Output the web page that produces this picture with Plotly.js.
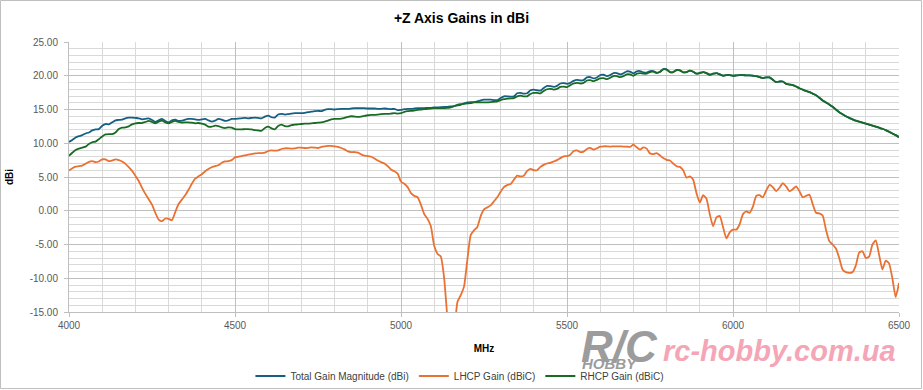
<!DOCTYPE html>
<html>
<head>
<meta charset="utf-8">
<script src="https://cdn.plot.ly/plotly-3.0.1.min.js"></script>
<style>
  html, body { margin: 0; padding: 0; background: #ffffff; }
  #chart { width: 923px; height: 390px; }
</style>
</head>
<body>
<div id="chart"></div>
<script>
// Frequency (MHz), 10 MHz steps
const freqMHz = [
  4000,4010,4020,4030,4040,4050,4060,4070,4080,4090,
  4100,4110,4120,4130,4140,4150,4160,4170,4180,4190,
  4200,4210,4220,4230,4240,4250,4260,4270,4280,4290,
  4300,4310,4320,4330,4340,4350,4360,4370,4380,4390,
  4400,4410,4420,4430,4440,4450,4460,4470,4480,4490,
  4500,4510,4520,4530,4540,4550,4560,4570,4580,4590,
  4600,4610,4620,4630,4640,4650,4660,4670,4680,4690,
  4700,4710,4720,4730,4740,4750,4760,4770,4780,4790,
  4800,4810,4820,4830,4840,4850,4860,4870,4880,4890,
  4900,4910,4920,4930,4940,4950,4960,4970,4980,4990,
  5000,5010,5020,5030,5040,5050,5060,5070,5080,5090,
  5100,5110,5120,5130,5140,5150,5160,5170,5180,5190,
  5200,5210,5220,5230,5240,5250,5260,5270,5280,5290,
  5300,5310,5320,5330,5340,5350,5360,5370,5380,5390,
  5400,5410,5420,5430,5440,5450,5460,5470,5480,5490,
  5500,5510,5520,5530,5540,5550,5560,5570,5580,5590,
  5600,5610,5620,5630,5640,5650,5660,5670,5680,5690,
  5700,5710,5720,5730,5740,5750,5760,5770,5780,5790,
  5800,5810,5820,5830,5840,5850,5860,5870,5880,5890,
  5900,5910,5920,5930,5940,5950,5960,5970,5980,5990,
  6000,6010,6020,6030,6040,6050,6060,6070,6080,6090,
  6100,6110,6120,6130,6140,6150,6160,6170,6180,6190,
  6200,6210,6220,6230,6240,6250,6260,6270,6280,6290,
  6300,6310,6320,6330,6340,6350,6360,6370,6380,6390,
  6400,6410,6420,6430,6440,6450,6460,6470,6480,6490,
  6500
];

// Total Gain Magnitude (dBi)
const totalGain = [
  10.2,10.5,10.85,11.05,11.2,11.45,11.6,11.9,12.05,12.1,
  12.6,12.85,12.8,13.1,13.4,13.45,13.5,13.7,13.8,13.8,
  13.75,13.7,13.55,13.6,13.7,13.45,13.15,13.4,13.6,13.3,
  13.1,13.4,13.5,13.3,13.35,13.5,13.6,13.6,13.55,13.45,
  13.55,13.6,13.4,13.2,13.35,13.6,13.5,13.3,13.4,13.6,
  13.6,13.65,13.7,13.75,13.7,13.75,13.8,13.75,13.7,13.95,
  14.1,13.85,13.8,14.25,14.35,14.25,14.3,14.4,14.45,14.45,
  14.45,14.5,14.6,14.7,14.75,14.8,14.75,14.95,15.05,15.05,
  15.0,15.05,15.1,15.1,15.1,15.15,15.2,15.2,15.2,15.2,
  15.15,15.15,15.15,15.1,15.1,15.15,15.1,15.05,15.1,14.9,
  14.95,15.05,15.1,15.1,15.15,15.2,15.2,15.2,15.25,15.25,
  15.3,15.3,15.35,15.4,15.4,15.45,15.5,15.6,15.7,15.9,
  16.05,16.1,16.1,16.2,16.35,16.45,16.45,16.45,16.4,16.4,
  16.7,16.95,16.95,16.9,16.95,17.4,17.45,17.35,17.4,17.85,
  17.95,17.85,17.8,18.2,18.5,18.45,18.35,18.5,18.85,18.9,
  18.8,18.95,19.25,19.4,19.3,19.35,19.75,19.8,19.6,19.75,
  20.1,20.15,19.95,20.1,20.4,20.4,20.2,20.35,20.65,20.6,
  20.35,20.65,20.7,20.5,20.45,20.7,20.7,20.45,20.6,21.0,
  20.95,20.55,20.55,20.85,20.8,20.5,20.55,20.75,20.6,20.3,
  20.4,20.55,20.4,20.15,20.3,20.4,20.2,20.0,20.1,20.1,
  20.0,20.05,20.1,20.1,20.05,20.05,20.0,19.95,19.8,19.65,
  19.75,19.75,19.4,19.05,19.15,19.15,18.8,18.7,18.6,18.4,
  18.15,17.95,17.75,17.6,17.35,17.1,16.75,16.35,16.05,15.75,
  15.4,15.0,14.6,14.3,14.0,13.75,13.55,13.35,13.2,13.05,
  12.9,12.75,12.6,12.45,12.3,12.15,11.95,11.7,11.45,11.2,
  10.9
];

// LHCP Gain (dBiC)
const lhcpGain = [
  5.95,6.3,6.55,6.6,6.7,6.95,7.25,7.35,7.2,7.3,
  7.6,7.6,7.35,7.45,7.6,7.5,7.3,6.95,6.45,5.9,
  5.2,4.4,3.4,2.5,1.7,0.9,-0.3,-1.3,-1.55,-1.15,
  -1.2,-1.4,-0.2,1.0,1.65,2.3,3.1,4.0,4.75,5.1,
  5.4,5.85,6.2,6.45,6.6,6.75,7.1,7.3,7.35,7.5,
  7.9,8.0,8.1,8.2,8.3,8.4,8.5,8.55,8.55,8.6,
  8.85,8.95,8.9,8.95,9.15,9.25,9.25,9.2,9.25,9.35,
  9.35,9.3,9.3,9.4,9.35,9.3,9.45,9.55,9.6,9.6,
  9.55,9.45,9.3,9.1,8.8,8.7,8.7,8.6,8.35,8.15,
  8.1,8.0,7.75,7.45,7.2,7.0,6.6,6.1,5.85,5.5,
  4.3,4.0,3.5,2.6,2.2,2.0,0.9,-0.5,-1.2,-2.3,
  -5.2,-6.4,-6.8,-10.0,-16.0,-20.0,-18.0,-13.5,-12.5,-11.2,
  -7.2,-3.6,-2.9,-2.4,-0.8,0.2,0.5,0.8,1.4,2.0,
  2.8,3.5,3.8,3.95,4.6,5.2,5.1,5.2,5.9,6.2,
  6.0,6.0,6.5,6.8,7.0,7.1,7.3,7.5,7.8,8.05,
  8.1,8.3,8.85,8.95,8.7,8.75,9.15,9.3,9.05,9.25,
  9.5,9.55,9.55,9.5,9.55,9.55,9.55,9.5,9.5,9.45,
  9.8,9.4,9.05,9.4,9.2,8.5,8.4,8.55,8.2,7.8,
  7.55,7.45,7.0,6.6,6.5,6.0,4.9,5.1,4.6,2.6,
  1.2,2.3,1.8,-0.5,-2.3,-1.0,-0.75,-2.4,-4.1,-3.2,
  -2.8,-2.8,-2.0,-0.5,-0.1,-0.3,0.6,2.2,2.3,2.0,
  3.0,3.85,3.5,2.9,3.4,4.1,3.6,2.9,3.2,3.6,
  2.9,2.0,2.2,2.4,1.0,-0.3,-0.4,-0.7,-2.8,-4.5,
  -5.0,-5.6,-7.0,-8.7,-9.1,-9.2,-9.1,-8.1,-6.2,-6.0,
  -7.0,-6.8,-5.0,-4.4,-6.5,-8.7,-7.4,-7.8,-10.0,-12.8,
  -10.7
];

// RHCP Gain (dBiC)
const rhcpGain = [
  8.15,8.6,9.0,9.2,9.35,9.5,9.9,10.15,10.25,10.6,
  11.0,11.3,11.35,11.35,11.6,12.1,12.3,12.35,12.5,12.8,
  12.95,13.0,13.0,13.15,13.3,13.15,12.95,13.2,13.35,13.1,
  12.95,13.15,13.3,13.15,13.05,13.1,13.1,13.05,12.95,13.0,
  12.9,12.75,12.45,12.45,12.6,12.55,12.35,12.25,12.35,12.3,
  12.1,12.05,12.05,12.1,12.1,12.05,11.95,11.9,11.85,12.25,
  12.45,12.2,12.05,12.55,12.75,12.55,12.5,12.7,12.75,12.8,
  12.85,12.9,12.9,12.95,13.0,13.05,13.1,13.2,13.35,13.55,
  13.6,13.6,13.65,13.75,13.9,14.0,13.95,13.9,13.95,14.05,
  14.15,14.2,14.2,14.25,14.3,14.35,14.35,14.4,14.45,14.4,
  14.45,14.65,14.75,14.8,14.85,14.95,15.0,15.05,15.1,15.15,
  15.2,15.2,15.2,15.2,15.25,15.3,15.5,15.7,15.8,15.85,
  15.9,15.95,16.05,16.05,16.05,16.05,16.05,16.1,16.15,16.2,
  16.4,16.55,16.6,16.65,16.7,16.95,17.05,16.95,16.95,17.3,
  17.45,17.45,17.4,17.75,18.0,18.05,17.95,18.05,18.35,18.4,
  18.3,18.6,18.85,18.95,18.85,18.95,19.3,19.35,19.2,19.4,
  19.6,19.65,19.5,19.7,19.95,19.95,19.8,19.95,20.2,20.2,
  20.0,20.3,20.4,20.3,20.3,20.55,20.6,20.4,20.55,20.95,
  20.9,20.55,20.55,20.85,20.8,20.5,20.55,20.75,20.6,20.3,
  20.4,20.55,20.4,20.15,20.3,20.4,20.2,20.0,20.1,20.1,
  20.0,20.05,20.1,20.1,20.05,20.05,20.0,19.95,19.8,19.65,
  19.75,19.75,19.4,19.05,19.15,19.15,18.8,18.7,18.6,18.4,
  18.15,17.95,17.75,17.6,17.35,17.1,16.75,16.35,16.05,15.75,
  15.4,15.0,14.6,14.3,14.0,13.75,13.55,13.35,13.2,13.05,
  12.9,12.75,12.6,12.45,12.3,12.15,11.95,11.7,11.45,11.2,
  10.9
];

const seriesNames = ["Total Gain Magnitude (dBi)", "LHCP Gain (dBiC)", "RHCP Gain (dBiC)"];
const xTickVals = [4000, 4500, 5000, 5500, 6000, 6500];
const xTickLabels = ["4000", "4500", "5000", "5500", "6000", "6500"];
const yTickVals = [-15, -10, -5, 0, 5, 10, 15, 20, 25];
const yTickLabels = ["-15.00", "-10.00", "-5.00", "0.00", "5.00", "10.00", "15.00", "20.00", "25.00"];

const FONT = "'Liberation Sans Narrow', 'Liberation Sans', Arial, sans-serif";
const WIDE = "'Liberation Sans', Arial, sans-serif";

const mk = (y, name, color) => ({
  x: freqMHz, y: y, name: name, type: 'scatter', mode: 'lines',
  line: { color: color, width: 1.8, shape: 'spline', smoothing: 0.5 },
  hoverinfo: 'skip'
});

const traces = [
  mk(totalGain, seriesNames[0], '#156082'),
  mk(lhcpGain, seriesNames[1], '#E97132'),
  mk(rhcpGain, seriesNames[2], '#196B24')
];

// paper coords helpers (plot area in pixels)
const PL = 69, PR = 899, PT = 42, PB = 312;
const px = v => (v - PL) / (PR - PL);
const py = v => (PB - v) / (PB - PT);

const layout = {
  width: 923, height: 390,
  margin: { l: PL, r: 923 - PR, t: PT, b: 390 - PB, pad: 0, autoexpand: false },
  paper_bgcolor: '#ffffff', plot_bgcolor: '#ffffff',
  font: { family: FONT, size: 10, color: '#595959' },
  title: {
    text: '<b>+Z Axis Gains in dBi</b>',
    font: { family: WIDE, size: 14, color: '#000000' },
    x: 0.5, xref: 'container', y: 0.953, yref: 'container', yanchor: 'middle'
  },
  showlegend: true,
  legend: {
    orientation: 'h', x: 0.471, xanchor: 'center', y: py(376), yanchor: 'middle',
    font: { family: FONT, size: 10, color: '#404040' },
    itemwidth: 30, tracegroupgap: 0, bgcolor: 'rgba(0,0,0,0)'
  },
  xaxis: {
    range: [4000, 6500], type: 'linear', automargin: false,
    tickvals: xTickVals, ticktext: xTickLabels,
    showgrid: true, gridcolor: '#bfbfbf', gridwidth: 1,
    minor: { dtick: 100, tick0: 4000, showgrid: true, gridcolor: '#d9d9d9', gridwidth: 1, ticks: '' },
    ticks: 'outside', ticklen: 4, tickcolor: '#bfbfbf',
    showline: true, linecolor: '#bfbfbf', linewidth: 1,
    zeroline: false,
    tickfont: { family: FONT, size: 10, color: '#595959' },
    title: { text: '<b>MHz</b>', font: { family: FONT, size: 10, color: '#000000' }, standoff: 14 }
  },
  yaxis: {
    range: [-15, 25], type: 'linear', automargin: false,
    tickvals: yTickVals, ticktext: yTickLabels,
    showgrid: true, gridcolor: '#bfbfbf', gridwidth: 1,
    minor: { dtick: 1, tick0: 0, showgrid: true, gridcolor: '#d9d9d9', gridwidth: 1, ticks: '' },
    ticks: 'outside', ticklen: 4, tickcolor: '#bfbfbf',
    showline: true, linecolor: '#bfbfbf', linewidth: 1,
    zeroline: false,
    ticklabelstandoff: 4,
    tickfont: { family: FONT, size: 10, color: '#595959' },
    title: { text: '<b>dBi</b>', font: { family: FONT, size: 10, color: '#000000' }, standoff: 14 }
  },
  shapes: [
    { type: 'rect', xref: 'paper', yref: 'paper',
      x0: px(0.5), x1: px(921.5), y0: py(388.5), y1: py(0.5),
      line: { color: '#bfbfbf', width: 1 }, fillcolor: 'rgba(0,0,0,0)', layer: 'below' }
  ],
  annotations: [
    { text: '<b><i>R/C</i></b>', xref: 'paper', yref: 'paper',
      x: px(619), y: py(346), xanchor: 'center', yanchor: 'middle',
      showarrow: false, font: { family: WIDE, size: 44, color: '#9c9c9c' } },
    { text: '<b><i>HOBBY</i></b>', xref: 'paper', yref: 'paper',
      x: px(610), y: py(363), xanchor: 'center', yanchor: 'middle',
      showarrow: false, font: { family: WIDE, size: 15, color: '#9c9c9c' } },
    { text: '<b><i>rc-hobby.com.ua</i></b>', xref: 'paper', yref: 'paper',
      x: px(779), y: py(351), xanchor: 'center', yanchor: 'middle',
      showarrow: false, font: { family: FONT, size: 29, color: '#f4a6b7' } }
  ]
};

Plotly.newPlot('chart', traces, layout, { staticPlot: true, displayModeBar: false });
</script>
</body>
</html>
